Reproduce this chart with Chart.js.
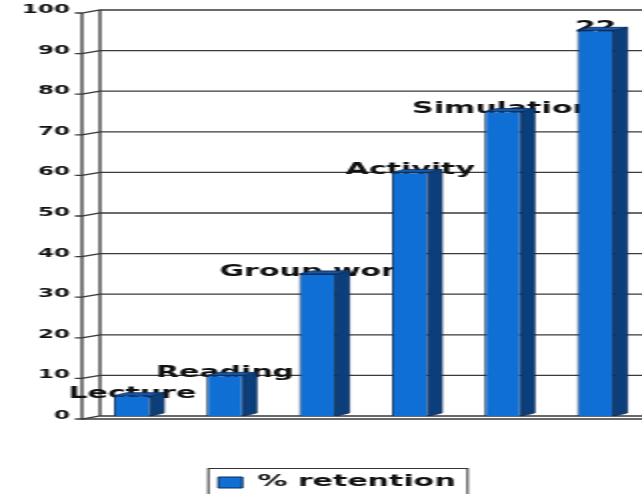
<!DOCTYPE html>
<html>
<head>
<meta charset="utf-8">
<script src="https://cdn.jsdelivr.net/npm/chart.js@4.4.1/dist/chart.umd.min.js"></script>
<style>
  html, body { margin: 0; padding: 0; background: #fff; overflow: hidden; }
  /* the source picture is stretched sideways, so draw at half width and stretch */
  #wrap { width: 321px; height: 494px; transform: scaleX(2); transform-origin: 0 0; }
</style>
</head>
<body>
<div id="wrap"><canvas id="chart"></canvas></div>
<script>
const categories = ["Lecture", "Reading", "Group work", "Activity", "Simulation", "22"];
const retention = [5, 10, 35, 60, 75, 95];
const seriesName = "% retention";

const FONT = "'DejaVu Sans', Arial, sans-serif";
const DEPTH = 6.5; // 3d offset to the right
const RISE = 3;    // 3d offset upwards

// back wall, grid lines and category labels, drawn under the bars
const wall = {
  id: "wall",
  afterLayout(chart) {
    // legend sits a little right of centre in the original
    chart.legend.left += 8;
    chart.legend.right += 8;
  },
  beforeDatasetsDraw(chart) {
    const { ctx, chartArea, scales: { y } } = chart;
    const front = chartArea.left - 2;
    const back = front + 9;
    const right = chart.width;
    ctx.save();
    ctx.strokeStyle = "#3a3a3a";
    ctx.lineWidth = 1.3;
    y.ticks.forEach((t) => {
      const py = y.getPixelForValue(t.value);
      ctx.beginPath();
      ctx.moveTo(front - 3.5, py + RISE);
      ctx.lineTo(front, py + RISE);
      ctx.lineTo(back, py);
      ctx.lineTo(right, py);
      ctx.stroke();
    });
    const y0 = y.getPixelForValue(0);
    const yTop = y.getPixelForValue(100);
    ctx.beginPath();
    ctx.moveTo(front, yTop + RISE);
    ctx.lineTo(front, y0 + RISE);
    ctx.lineTo(right, y0 + RISE);
    ctx.moveTo(back, yTop);
    ctx.lineTo(back, y0);
    ctx.stroke();

    // category names sit at the bar tops, behind the bars
    const meta = chart.getDatasetMeta(0);
    ctx.fillStyle = "#111";
    ctx.font = "bold 15px " + FONT;
    ctx.textAlign = "center";
    ctx.textBaseline = "middle";
    meta.data.forEach((bar, i) => {
      ctx.fillText(chart.data.labels[i], bar.x, bar.y - 2);
    });

    // side and top faces
    ctx.strokeStyle = "#0b2c5a";
    ctx.lineWidth = 0.8;
    meta.data.forEach((bar) => {
      const l = bar.x - bar.width / 2;
      const r = bar.x + bar.width / 2;
      ctx.fillStyle = "#0b3f7c";
      ctx.beginPath();
      ctx.moveTo(r, bar.y);
      ctx.lineTo(r + DEPTH, bar.y - RISE);
      ctx.lineTo(r + DEPTH, bar.base - RISE);
      ctx.lineTo(r, bar.base);
      ctx.closePath();
      ctx.fill();
      ctx.stroke();
      ctx.fillStyle = "#1558a8";
      ctx.beginPath();
      ctx.moveTo(l, bar.y);
      ctx.lineTo(l + DEPTH, bar.y - RISE);
      ctx.lineTo(r + DEPTH, bar.y - RISE);
      ctx.lineTo(r, bar.y);
      ctx.closePath();
      ctx.fill();
      ctx.stroke();
    });
    ctx.restore();
  },
  afterDraw(chart) {
    // frame around the legend
    const hb = chart.legend.legendHitBoxes[0];
    if (!hb) return;
    const { ctx } = chart;
    ctx.save();
    ctx.strokeStyle = "#333";
    ctx.lineWidth = 1;
    ctx.strokeRect(hb.left - 5, hb.top + hb.height / 2 - 14, hb.width + 11, 40);
    ctx.restore();
  }
};

new Chart(document.getElementById("chart"), {
  type: "bar",
  data: {
    labels: categories,
    datasets: [{
      label: seriesName,
      data: retention,
      backgroundColor: "#0f6fd4",
      borderColor: "#0b2c5a",
      borderWidth: 1,
      categoryPercentage: 1,
      barPercentage: 0.4
    }]
  },
  options: {
    responsive: true,
    maintainAspectRatio: false,
    animation: false,
    layout: { padding: { left: 0, right: 0, top: 10, bottom: -6 } },
    plugins: {
      legend: {
        position: "bottom",
        labels: {
          boxWidth: 12,
          boxHeight: 11,
          padding: 4,
          color: "#111",
          font: { family: FONT, size: 15, weight: "bold" }
        }
      },
      tooltip: { enabled: false }
    },
    scales: {
      x: {
        ticks: { display: false },
        grid: { display: false },
        border: { display: false },
        afterFit(scale) { scale.height = 55; }
      },
      y: {
        min: 0,
        max: 100,
        ticks: {
          stepSize: 10,
          padding: 0,
          color: "#111",
          font: { family: FONT, size: 11.5, weight: "bold" }
        },
        grid: { display: false },
        border: { display: false },
        afterFit(scale) { scale.width = 43; }
      }
    }
  },
  plugins: [wall]
});
</script>
</body>
</html>
